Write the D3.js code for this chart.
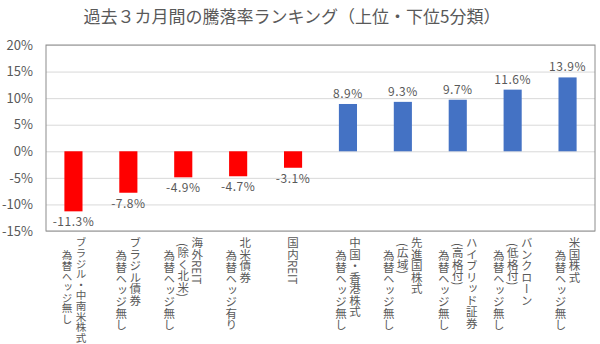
<!DOCTYPE html>
<html><head><meta charset="utf-8">
<script src="https://cdn.jsdelivr.net/npm/d3@7"></script>
<style>
body{margin:0;background:#fff;}
svg{display:block;font-family:"Noto Sans CJK JP","Noto Sans",sans-serif;}
.xl{display:flex;flex-direction:row-reverse;justify-content:center;align-items:flex-start;width:100%;height:100%;}
.xl div{writing-mode:vertical-rl;text-orientation:mixed;font-family:"Noto Sans CJK JP",sans-serif;line-height:14px;width:14px;color:#595959;white-space:nowrap;}
</style></head>
<body><svg id="c" width="600" height="344"></svg>
<script>
const title = "過去３カ月間の騰落率ランキング（上位・下位5分類）";
const categories = [
  ["ブラジル・中南米株式","為替ヘッジ無し"],
  ["ブラジル債券","為替ヘッジ無し"],
  ["海外REIT","(除く北米)","為替ヘッジ無し"],
  ["北米債券","為替ヘッジ有り"],
  ["国内REIT"],
  ["中国・香港株式","為替ヘッジ無し"],
  ["先進国株式","(広域)","為替ヘッジ無し"],
  ["ハイブリッド証券","(高格付)","為替ヘッジ無し"],
  ["バンクローン","(低格付)","為替ヘッジ無し"],
  ["米国株式","為替ヘッジ無し"]
];
const values = [-11.3, -7.8, -4.9, -4.7, -3.1, 8.9, 9.3, 9.7, 11.6, 13.9];
const yTicks = [-15, -10, -5, 0, 5, 10, 15, 20];

const svg = d3.select("#c");
const L = 46, R = 595, T = 45, B = 231;
const x = d3.scaleBand().domain(d3.range(values.length)).range([L, R]).paddingInner(0.67).paddingOuter(0.335);
const y = d3.scaleLinear().domain([-15, 20]).range([B, T]);
const grey = "#595959";

svg.append("text").attr("x", 292).attr("y", 23).attr("text-anchor", "middle")
  .attr("font-size", 17).attr("fill", grey).text(title);

// gridlines
svg.append("g").attr("transform", `translate(${L},0)`)
  .call(d3.axisLeft(y).tickValues(yTicks).tickSize(-(R - L)).tickFormat(""))
  .call(g => g.select(".domain").remove())
  .call(g => g.selectAll("line").attr("stroke", "#d9d9d9"));

// y labels
svg.append("g").attr("transform", `translate(${L},0)`)
  .call(d3.axisLeft(y).tickValues(yTicks).tickSize(0).tickPadding(13).tickFormat(d => d + "%"))
  .call(g => g.select(".domain").remove())
  .call(g => g.selectAll("text").attr("font-size", 13).attr("fill", grey).attr("font-family", "'Noto Sans CJK JP',sans-serif"));

// bars
svg.append("g").selectAll("rect").data(values).join("rect")
  .attr("x", (d, i) => x(i)).attr("width", x.bandwidth())
  .attr("y", d => y(Math.max(0, d))).attr("height", d => Math.abs(y(d) - y(0)))
  .attr("fill", d => d < 0 ? "#FF0000" : "#4472C4");

// value labels
svg.append("g").selectAll("text").data(values).join("text")
  .attr("x", (d, i) => x(i) + x.bandwidth() / 2)
  .attr("y", d => d < 0 ? y(d) + 15 : y(d) - 6)
  .attr("text-anchor", "middle").attr("font-size", 12).attr("letter-spacing", 0.5).attr("fill", grey)
  .text(d => d.toFixed(1) + "%");

// frame
svg.append("rect").attr("x", L).attr("y", T).attr("width", R - L).attr("height", B - T)
  .attr("fill", "none").attr("stroke", "#8c8c8c").attr("stroke-width", 1);

// x axis labels (vertical), shrunk to fit the space below the axis
const labelSpace = 106;
const xa = svg.append("g").attr("transform", `translate(0,${B})`)
  .call(d3.axisBottom(x).tickSize(0).tickFormat(""))
  .call(g => g.select(".domain").remove());
xa.selectAll(".tick").each(function (i) {
  const lines = categories[i];
  const n = lines.length;
  const maxLen = d3.max(lines, s => s.length);
  const fs = Math.min(11.5, labelSpace / maxLen);
  const fo = d3.select(this).append("foreignObject")
    .attr("x", -27).attr("y", 6).attr("width", 54).attr("height", 107);
  const wrap = fo.append("xhtml:div").attr("class", "xl");
  lines.forEach((s, k) => {
    const off = k === 0 ? 0 : (k === n - 1 ? 13 : 6);
    wrap.append("xhtml:div").style("margin-top", off + "px").style("font-size", fs + "px").text(s);
  });
});
</script></body></html>
